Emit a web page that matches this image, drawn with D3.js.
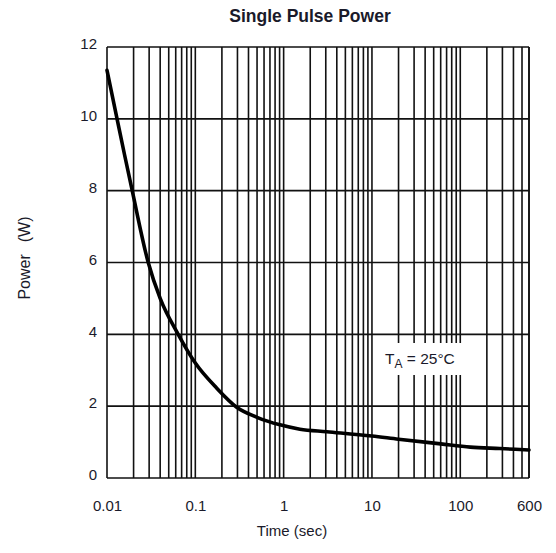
<!DOCTYPE html>
<html>
<head>
<meta charset="utf-8">
<script src="https://cdn.jsdelivr.net/npm/d3@7"></script>
<style>
  html, body { margin: 0; padding: 0; background: #fff; }
  svg { display: block; font-family: "Liberation Sans", Arial, sans-serif; }
</style>
</head>
<body>
<svg id="chart" width="556" height="553"></svg>
<script>
// ---- data ----
const timeSec = [0.01, 0.013, 0.0158, 0.0193, 0.0293, 0.04, 0.064, 0.1, 0.175, 0.294, 0.5, 0.91, 1.53, 3.08, 10, 20, 60, 130, 280, 600];
const powerW  = [11.35, 10.0, 9.0, 8.0, 6.0, 5.0, 4.0, 3.2, 2.5, 1.97, 1.69, 1.48, 1.36, 1.29, 1.17, 1.08, 0.95, 0.86, 0.82, 0.78];
const xTickValues = [0.01, 0.1, 1, 10, 100, 600];
const xTickLabels = ["0.01", "0.1", "1", "10", "100", "600"];
const yTickValues = [0, 2, 4, 6, 8, 10, 12];
const titleText = "Single Pulse Power";
const xLabel = "Time (sec)";
const yLabelWord = "Power";
const yLabelUnit = "(W)";

// ---- layout ----
const svg = d3.select("#chart");
const pLeft = 107, pRight = 529, pTop = 47, pBottom = 478;
const textColor = "#1a1a2a";
const fontFam = "Liberation Sans, Arial, sans-serif";

const x = d3.scaleLog().domain([0.01, 600]).range([pLeft, pRight]);
const y = d3.scaleLinear().domain([0, 12]).range([pBottom, pTop]);

// vertical grid (log minor lines)
const vGrid = [];
for (let e = -2; e <= 2; e++) {
  for (let m = 1; m <= 9; m++) {
    const v = m * Math.pow(10, e);
    if (v >= 0.01 && v <= 600) vGrid.push(v);
  }
}
vGrid.push(600);

const gGrid = svg.append("g").attr("stroke", "#111").attr("stroke-width", 1.6);
gGrid.selectAll("line.v").data(vGrid).enter().append("line")
  .attr("class", "v")
  .attr("x1", d => x(d)).attr("x2", d => x(d))
  .attr("y1", pTop).attr("y2", pBottom);
gGrid.selectAll("line.h").data(yTickValues).enter().append("line")
  .attr("class", "h")
  .attr("x1", pLeft).attr("x2", pRight)
  .attr("y1", d => y(d)).attr("y2", d => y(d));

// annotation background box
svg.append("rect")
  .attr("x", 378).attr("y", 343).attr("width", 97).attr("height", 32)
  .attr("fill", "#fff");

// curve
const line = d3.line()
  .x((d, i) => x(timeSec[i]))
  .y(d => y(d))
  .curve(d3.curveMonotoneX);
svg.append("path")
  .datum(powerW)
  .attr("d", line)
  .attr("fill", "none")
  .attr("stroke", "#000")
  .attr("stroke-width", 3.6)
  .attr("stroke-linejoin", "round")
  .attr("stroke-linecap", "round");

// axes (labels only)
const xAxis = d3.axisBottom(x).tickValues(xTickValues)
  .tickFormat((d, i) => xTickLabels[i]).tickSize(0).tickPadding(22);
const gx = svg.append("g").attr("transform", `translate(0,${pBottom})`).call(xAxis);
gx.select(".domain").remove();
gx.selectAll("text").attr("font-size", 15).attr("fill", textColor)
  .attr("font-family", fontFam);

const yAxis = d3.axisLeft(y).tickValues(yTickValues).tickFormat(d3.format("d"))
  .tickSize(0).tickPadding(10);
const gy = svg.append("g").attr("transform", `translate(${pLeft},-3)`).call(yAxis);
gy.select(".domain").remove();
gy.selectAll("text").attr("font-size", 15).attr("fill", textColor)
  .attr("font-family", fontFam);

// title
svg.append("text")
  .attr("x", 310).attr("y", 22)
  .attr("text-anchor", "middle")
  .attr("font-size", 17.5).attr("font-weight", "bold")
  .attr("fill", textColor)
  .text(titleText);

// x label
svg.append("text")
  .attr("x", 292).attr("y", 536)
  .attr("text-anchor", "middle")
  .attr("font-size", 15)
  .attr("fill", textColor)
  .text(xLabel);

// y label
const yl = svg.append("text")
  .attr("transform", "translate(30,258) rotate(-90)")
  .attr("text-anchor", "middle")
  .attr("font-size", 16)
  .attr("fill", textColor);
yl.append("tspan").text(yLabelWord);
yl.append("tspan").attr("dx", 12).text(yLabelUnit);

// annotation
const ann = svg.append("text")
  .attr("x", 385).attr("y", 364)
  .attr("font-size", 15.5)
  .attr("fill", textColor);
ann.append("tspan").text("T");
ann.append("tspan").attr("font-size", 12).attr("dy", 4).text("A");
ann.append("tspan").attr("dy", -4).text(" = 25°C");
</script>
</body>
</html>
